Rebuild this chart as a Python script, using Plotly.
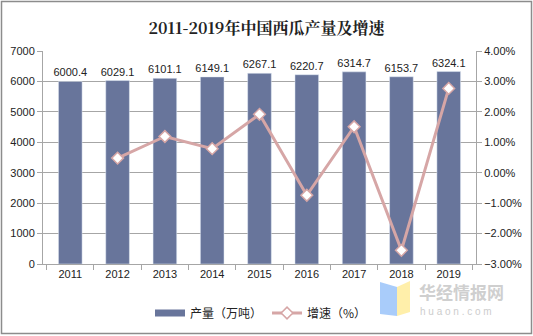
import plotly.graph_objects as go

years = ["2011", "2012", "2013", "2014", "2015", "2016", "2017", "2018", "2019"]
output = [6000.4, 6029.1, 6101.1, 6149.1, 6267.1, 6220.7, 6314.7, 6153.7, 6324.1]
growth = [None, 0.48, 1.19, 0.79, 1.92, -0.74, 1.51, -2.55, 2.77]

BAR = "#68759b"
LINE = "#d6a6a6"
TXT = "#222222"
GRID = "#a6a6a6"

W, H = 533, 336
L, R, T, B = 43, 57, 51, 72
pw, ph = W - L - R, H - T - B


def px(x):
    return (x - L) / pw


def py(y):
    return (H - B - y) / ph


fig = go.Figure()
fig.add_trace(go.Bar(
    x=years, y=output, marker_color=BAR, showlegend=False,
    text=[f"{v:.1f}" for v in output], textposition="outside",
    textfont=dict(size=11, color=TXT), cliponaxis=False,
    constraintext="none",
))
# legend entry drawn as a thick bar-coloured line
fig.add_trace(go.Scatter(
    x=[None], y=[None], mode="lines", name="产量（万吨）",
    line=dict(color=BAR, width=7),
))
fig.add_trace(go.Scatter(
    x=years, y=growth, yaxis="y2", mode="lines+markers", name="增速（%）",
    line=dict(color=LINE, width=3),
    marker=dict(symbol="diamond", size=9, color="white",
                line=dict(color=LINE, width=1.5)),
))

fig.update_layout(
    width=W, height=H,
    margin=dict(l=L, r=R, t=T, b=B, autoexpand=False),
    paper_bgcolor="white", plot_bgcolor="white",
    font=dict(family="Liberation Sans, Arial, sans-serif", size=11, color=TXT),
    title=dict(text="<b>2011-2019年中国西瓜产量及增速</b>", x=0.5, xanchor="center",
               y=1 - 28 / H, yanchor="middle",
               font=dict(family="Noto Serif CJK SC, Noto Sans CJK SC", size=16, color=TXT)),
    bargap=0.5,
    xaxis=dict(showline=True, linecolor=GRID, ticks="outside", tickson="boundaries",
               tickcolor=GRID, ticklen=5, showgrid=False,
               tickfont=dict(size=11, color=TXT)),
    yaxis=dict(range=[0, 7000], dtick=1000, showgrid=True, gridcolor=GRID,
               showline=True, linecolor=GRID, ticks="outside", tickcolor=GRID,
               ticklen=5, zeroline=False, tickfont=dict(size=11, color=TXT)),
    yaxis2=dict(overlaying="y", side="right", range=[-3, 4], dtick=1,
                tickformat=".2f", ticksuffix="%", showgrid=False,
                showline=True, linecolor=GRID, ticks="outside", tickcolor=GRID,
                ticklen=5, zeroline=False, tickfont=dict(size=11, color=TXT)),
    legend=dict(orientation="h", x=px(150), xanchor="left", y=py(313), yanchor="middle",
                font=dict(family="Noto Sans CJK SC", size=12, color=TXT),
                itemwidth=30, tracegroupgap=0, bgcolor="rgba(0,0,0,0)"),
)

# outer frame
fig.add_shape(type="rect", xref="paper", yref="paper",
              x0=px(1.5), x1=px(531.5), y0=py(333.5), y1=py(1.5),
              line=dict(color="#8c8c8c", width=1.5), fillcolor="rgba(0,0,0,0)", layer="below")

# watermark logo: two book pages
fig.add_shape(type="path", xref="paper", yref="paper",
              path=f"M {px(380)} {py(282)} L {px(397)} {py(287)} L {px(397)} {py(316)} L {px(380)} {py(314)} Z",
              fillcolor="rgba(160,198,250,0.9)", line=dict(width=0))
fig.add_shape(type="path", xref="paper", yref="paper",
              path=f"M {px(397)} {py(287)} L {px(410)} {py(281)} L {px(410)} {py(312)} L {px(397)} {py(316)} Z",
              fillcolor="rgba(255,238,165,0.95)", line=dict(width=0))
fig.add_annotation(xref="paper", yref="paper", x=px(418), y=py(291), xanchor="left",
                   yanchor="middle", showarrow=False, text="<b>华经情报网</b>",
                   font=dict(family="Noto Sans CJK SC", size=17, color="#cfcfcf"),
                   borderpad=0)
fig.add_annotation(xref="paper", yref="paper", x=px(419), y=py(311), xanchor="left",
                   yanchor="middle", showarrow=False, text="h u a o n . c o m",
                   font=dict(family="Liberation Sans", size=10, color="#cdcdcd"),
                   borderpad=0)

fig.write_html("out.html")
